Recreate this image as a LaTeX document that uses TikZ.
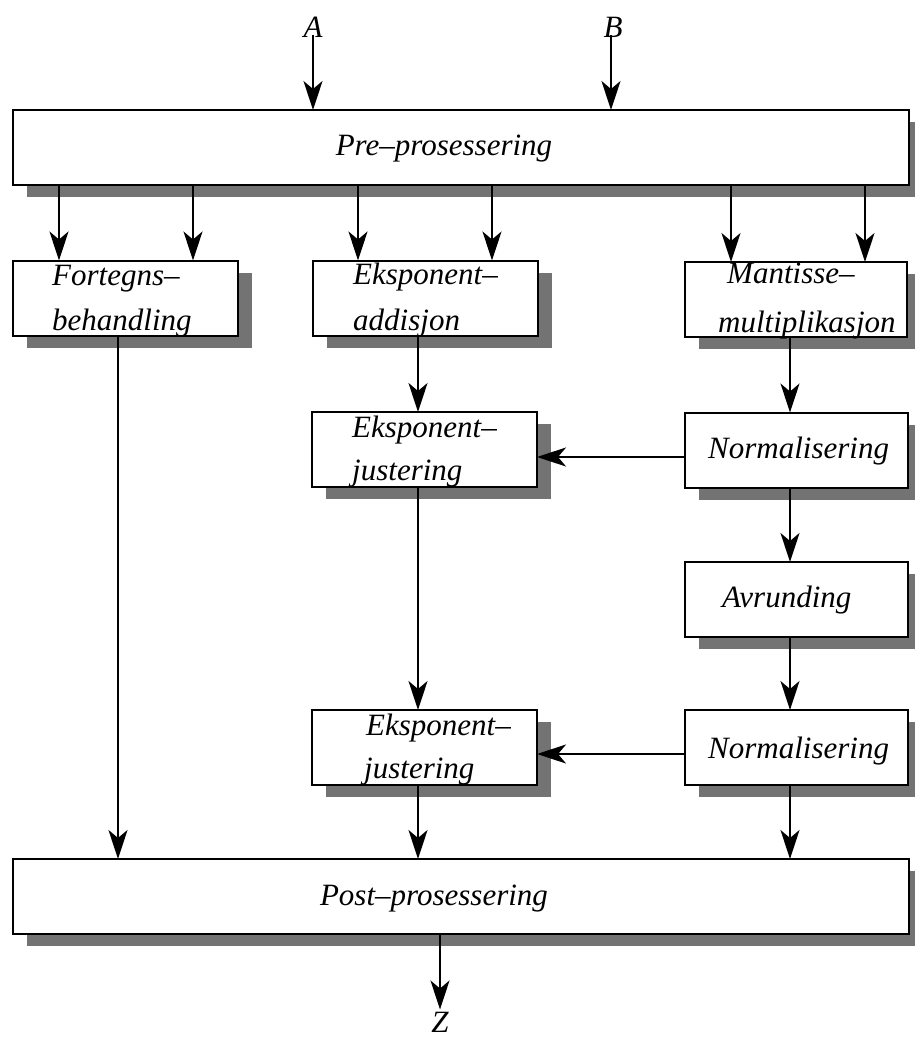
\documentclass[tikz,border=0pt]{standalone}
\usepackage{fontspec}
\setmainfont{Liberation Serif}
\usetikzlibrary{arrows.meta,shadows}
\begin{document}
\begin{tikzpicture}[x=1pt,y=-1pt,
  box/.style={draw=black, line width=2pt, fill=white, inner sep=0pt, outer sep=0pt,
    general shadow={fill=black!55, shadow xshift=14pt, shadow yshift=-12pt}},
  wide/.style={box, minimum width=896pt, minimum height=75pt},
  unit/.style={box, minimum width=225pt, minimum height=75pt},
  lbl/.style={inner sep=0pt, font=\fontsize{31}{37}\selectfont\itshape},
  arr/.style={line width=2pt, -{Stealth[length=29pt,width=19pt,inset=8pt]}}]
\useasboundingbox (0,0) rectangle (914,1038);

% arrow columns
\coordinate (xA) at (313,0);
\coordinate (xB) at (611,0);
\coordinate (c1) at (59,0);
\coordinate (c2) at (193,0);
\coordinate (c3) at (358,0);
\coordinate (c4) at (492,0);
\coordinate (c5) at (731,0);
\coordinate (c6) at (865,0);
\coordinate (xF) at (118,0);
\coordinate (xM) at (418,0);
\coordinate (xR) at (790,0);
\coordinate (xZ) at (440,0);

% boxes
\node[wide] (pre) at (461,147.5) {};
\node[unit] (fort) at (125.5,298) {};
\node[unit] (eadd) at (425,298) {};
\node[unit, minimum width=222pt] (mant) at (795.5,299.5) {};
\node[unit] (ej1) at (424.5,449.5) {};
\node[unit, minimum width=223pt] (norm1) at (796.5,450) {};
\node[unit, minimum width=223pt] (avr) at (796.5,599.5) {};
\node[unit] (ej2) at (424.5,747.5) {};
\node[unit, minimum width=223pt] (norm2) at (796.5,747.5) {};
\node[wide] (post) at (461,896.5) {};

% texts
\node[lbl, anchor=base] (preT) at (444,155) {Pre–prosessering};
\node[lbl, anchor=base] (a) at (313,38) {A};
\node[lbl, anchor=base] (b) at (613,38) {B};
\node[lbl, anchor=base west] (fortT1) at (52,285) {Fortegns–};
\node[lbl, anchor=base west] (fortT2) at (52,330) {behandling};
\node[lbl, anchor=base west] (eaddT1) at (353,284) {Eksponent–};
\node[lbl, anchor=base west] (eaddT2) at (353,330) {addisjon};
\node[lbl, anchor=base west] (mantT1) at (727,283) {Mantisse–};
\node[lbl, anchor=base west] (mantT2) at (718,332) {multiplikasjon};
\node[lbl, anchor=base west] (ej1T1) at (352,437) {Eksponent–};
\node[lbl, anchor=base west] (ej1T2) at (352,480) {justering};
\node[lbl, anchor=base west] (norm1T) at (708,458) {Normalisering};
\node[lbl, anchor=base west] (avrT) at (722,607) {Avrunding};
\node[lbl, anchor=base west] (ej2T1) at (366,735) {Eksponent–};
\node[lbl, anchor=base west] (ej2T2) at (364,778) {justering};
\node[lbl, anchor=base west] (norm2T) at (708,758) {Normalisering};
\node[lbl, anchor=base] (postT) at (434,905) {Post–prosessering};
\node[lbl, anchor=base] (z) at (440,1032) {Z};

% inputs
\draw[arr] ([yshift=3pt]a.south) -- (pre.north -| xA);
\draw[arr] ([yshift=3pt]b.south -| xB) -- (pre.north -| xB);

% pre-processing to the three units
\draw[arr] (pre.south -| c1) -- (fort.north -| c1);
\draw[arr] (pre.south -| c2) -- (fort.north -| c2);
\draw[arr] (pre.south -| c3) -- (eadd.north -| c3);
\draw[arr] (pre.south -| c4) -- (eadd.north -| c4);
\draw[arr] (pre.south -| c5) -- (mant.north -| c5);
\draw[arr] (pre.south -| c6) -- (mant.north -| c6);

% sign path
\draw[arr] (fort.south -| xF) -- (post.north -| xF);

% exponent path
\draw[arr] (eadd.south -| xM) -- (ej1.north -| xM);
\draw[arr] (ej1.south -| xM) -- (ej2.north -| xM);
\draw[arr] (ej2.south -| xM) -- (post.north -| xM);

% mantissa path
\draw[arr] (mant.south -| xR) -- (norm1.north -| xR);
\draw[arr] (norm1.south -| xR) -- (avr.north -| xR);
\draw[arr] (avr.south -| xR) -- (norm2.north -| xR);
\draw[arr] (norm2.south -| xR) -- (post.north -| xR);

% exponent corrections
\draw[arr] (norm1.west |- 0,457) -- (ej1.east |- 0,457);
\draw[arr] (norm2.west |- 0,754) -- (ej2.east |- 0,754);

% output
\draw[arr] (post.south -| xZ) -- ([yshift=2pt]z.north -| xZ);
\end{tikzpicture}
\end{document}
